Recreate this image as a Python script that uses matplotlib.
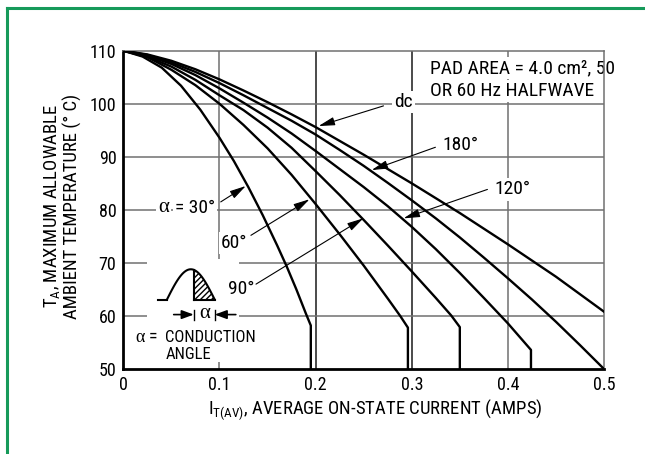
import matplotlib.pyplot as plt
import numpy as np
from matplotlib.patches import Rectangle
from matplotlib.lines import Line2D

narrow = ['Roboto Condensed', 'Liberation Sans Narrow', 'DejaVu Sans Condensed',
          'Liberation Sans', 'DejaVu Sans']
serif = ['Liberation Serif', 'DejaVu Serif']
plt.rcParams['font.family'] = narrow
plt.rcParams['mathtext.fontset'] = 'custom'
plt.rcParams['mathtext.rm'] = 'Liberation Sans'

# average on-state current (A) vs max allowable ambient temperature (C)
dc_i = [0, 0.025, 0.05, 0.075, 0.1, 0.125, 0.15, 0.175, 0.2, 0.25, 0.3, 0.35,
        0.4, 0.45, 0.5]
dc_t = [110, 109.3, 108.1, 106.5, 104.6, 102.5, 100.3, 98, 95.6, 90.4, 85,
        79.4, 73.5, 67.4, 60.8]

a180_i = [0, 0.025, 0.05, 0.075, 0.1, 0.125, 0.15, 0.175, 0.2, 0.225, 0.25,
          0.275, 0.3, 0.325, 0.35, 0.375, 0.4, 0.425, 0.45, 0.475, 0.5]
a180_t = [110, 109.2, 107.8, 106, 103.9, 101.6, 99.2, 96.8, 94.2, 91.3, 88.3,
          85.1, 81.8, 78.4, 74.8, 71, 67.1, 63.1, 58.9, 54.5, 50]

a120_i = [0, 0.025, 0.05, 0.075, 0.1, 0.125, 0.15, 0.175, 0.2, 0.225, 0.25,
          0.275, 0.3, 0.325, 0.35, 0.375, 0.4, 0.424, 0.424]
a120_t = [110, 109.1, 107.5, 105.4, 102.9, 100.2, 97.4, 94.4, 91.1, 87.7, 84.3,
          80.7, 76.8, 72.6, 68.1, 63.4, 58.6, 53.6, 50]

a90_i = [0, 0.025, 0.05, 0.075, 0.1, 0.125, 0.15, 0.175, 0.2, 0.225, 0.25,
         0.275, 0.3, 0.325, 0.341, 0.35, 0.35]
a90_t = [110, 108.9, 107, 104.5, 101.6, 98.8, 95.5, 91.7, 87.3, 82.8, 78.1,
         73.3, 68.4, 63.4, 60.1, 57.9, 50]

a60_i = [0, 0.025, 0.05, 0.075, 0.1, 0.125, 0.15, 0.175, 0.2, 0.225, 0.25,
         0.275, 0.288, 0.296, 0.296]
a60_t = [110, 108.8, 106.4, 103.5, 100, 96, 91.6, 86.6, 81.1, 75.4, 69.5,
         63.3, 60, 57.8, 50]

a30_i = [0, 0.02, 0.04, 0.06, 0.08, 0.1, 0.115, 0.13, 0.145, 0.16, 0.17, 0.18,
         0.19, 0.195, 0.195]
a30_t = [110, 108.9, 106.8, 103.4, 98.9, 93.6, 89.2, 84.3, 79, 73.3, 69.3, 65,
         60.4, 58.2, 50]

x_ticks = [0, 0.1, 0.2, 0.3, 0.4, 0.5]
x_labels = ['0', '0.1', '0.2', '0.3', '0.4', '0.5']
y_ticks = [50, 60, 70, 80, 90, 100, 110]

fig = plt.figure(figsize=(6.45, 4.54), dpi=100)
ax = fig.add_axes([0.1912, 0.1872, 0.7453, 0.7011])
ax.set_xlim(0, 0.5)
ax.set_ylim(50, 110)

# grid
for x in x_ticks[1:-1]:
    c = '#1a1a1a' if x in (0.2, 0.3) else '#707070'
    ax.axvline(x, color=c, lw=1.1, zorder=0.5)
for y in y_ticks[1:-1]:
    ax.axhline(y, color='#707070', lw=1.1, zorder=0.5)

for s in ['left', 'bottom']:
    ax.spines[s].set_linewidth(2)
    ax.spines[s].set_color('black')
for s in ['top', 'right']:
    ax.spines[s].set_linewidth(1.1)
    ax.spines[s].set_color('#707070')

ax.set_xticks(x_ticks)
ax.set_xticklabels(x_labels)
ax.set_yticks(y_ticks)
ax.tick_params(length=0, labelsize=13)
ax.tick_params(axis='y', pad=5)
ax.tick_params(axis='x', pad=5)

# curves
for xs, ys in [(dc_i, dc_t), (a180_i, a180_t), (a120_i, a120_t),
               (a90_i, a90_t), (a60_i, a60_t), (a30_i, a30_t)]:
    ax.plot(xs, ys, color='black', lw=1.7, zorder=3)

# labels with arrows
box = dict(facecolor='white', edgecolor='none', pad=1.5)
arr = dict(arrowstyle='-|>,head_length=0.7,head_width=0.18', color='black',
           lw=0.8, shrinkA=0, shrinkB=0, mutation_scale=14)
labels = [
    ('dc', (0.2915, 100.3), (0.2706, 99.6), (0.2031, 95.8)),
    ('180°', (0.3505, 92.2), (0.3246, 91.8), (0.2583, 87.5)),
    ('120°', (0.405, 83.85), (0.3787, 83.85), (0.2915, 78.4)),
    ('60°', (0.115, 73.8), (0.1327, 75.2), (0.1937, 82.0)),
    ('90°', (0.123, 65.0), (0.138, 66.0), (0.2496, 78.4)),
]
for txt, pos, tail, tip in labels:
    ax.text(pos[0], pos[1], txt, fontsize=14, ha='center', va='center',
            bbox=box, zorder=2)
    ax.annotate('', xy=tip, xytext=tail, arrowprops=arr, zorder=4)

# alpha = 30 label: serif alpha, sans rest
ax.text(0.0416, 80.4, 'α', fontsize=15, ha='center', va='center',
        family=serif, bbox=box, zorder=2)
ax.text(0.0535, 80.3, '= 30°', fontsize=14, ha='left', va='center',
        bbox=box, zorder=2)
ax.annotate('', xy=(0.1274, 84.5), xytext=(0.1013, 81.5), arrowprops=arr,
            zorder=4)

ax.text(0.3194, 106.7, 'PAD AREA = 4.0 cm², 50', fontsize=14, ha='left',
        va='center', bbox=box, zorder=2)
ax.text(0.3194, 102.4, 'OR 60 Hz HALFWAVE', fontsize=14, ha='left',
        va='center', bbox=box, zorder=2)

# conduction angle sketch
ax.add_patch(Rectangle((0.025, 51.4), 0.095, 19.4, facecolor='white',
                       edgecolor='none', zorder=1))
base, amp = 63.1, 5.7
x0, x1, xc = 0.0454, 0.095, 0.0733
wx = np.linspace(x0, x1, 80)
wy = base + amp * np.sin(np.pi * (wx - x0) / (x1 - x0))
ax.plot([0.0356, x0], [base, base], color='black', lw=1.5, zorder=3)
ax.plot(wx, wy, color='black', lw=1.5, zorder=3)
yc = base + amp * np.sin(np.pi * (xc - x0) / (x1 - x0))
ax.plot([xc, xc], [base, yc], color='black', lw=1.5, zorder=3)
ax.plot([xc, x1], [base, base], color='black', lw=1.5, zorder=3)
sel = wx >= xc
ax.fill_between(wx[sel], base, wy[sel], facecolor='white', edgecolor='black',
                hatch='//////', lw=0, zorder=2)
ax.plot([xc, xc], [59.3, 61.2], color='black', lw=1.0, zorder=3)
ax.plot([x1, x1], [59.3, 61.2], color='black', lw=1.0, zorder=3)
small = dict(arrowstyle='-|>,head_length=0.6,head_width=0.22', color='black',
             lw=1.2, shrinkA=0, shrinkB=0, mutation_scale=12)
ax.annotate('', xy=(xc, 60.26), xytext=(0.0524, 60.26), arrowprops=small, zorder=4)
ax.annotate('', xy=(x1, 60.26), xytext=(0.117, 60.26), arrowprops=small, zorder=4)
ax.text(0.0842, 60.4, 'α', fontsize=15, ha='center', va='center',
        family=serif, zorder=3)
ax.text(0.0122, 56.0, 'α', fontsize=13, ha='left', va='center',
        family=serif, zorder=3)
ax.text(0.0268, 56.0, '=', fontsize=13, ha='left', va='center', zorder=3)
ax.text(0.0437, 56.0, 'CONDUCTION', fontsize=12, ha='left', va='center', zorder=3)
ax.text(0.0437, 52.8, 'ANGLE', fontsize=12, ha='left', va='center', zorder=3)

# axis titles
fig.text(375.6 / 645, 1 - 410 / 454,
         r'$\mathregular{I_{T(AV)}}$, AVERAGE ON-STATE CURRENT (AMPS)',
         fontsize=13.5, ha='center', va='center')
fig.text(52 / 645, 1 - 206 / 454, r'$\mathregular{T_A}$, MAXIMUM ALLOWABLE',
         fontsize=13.5, ha='center', va='center', rotation=90)
fig.text(72 / 645, 1 - 206 / 454, 'AMBIENT TEMPERATURE (° C)',
         fontsize=13.5, ha='center', va='center', rotation=90)

# outer frame
green = '#169a5a'
fig.add_artist(Line2D([7 / 645, 7 / 645], [0, 1 - 8 / 454], color=green,
                      lw=2.2, transform=fig.transFigure))
fig.add_artist(Line2D([7 / 645, 1], [1 - 8 / 454, 1 - 8 / 454], color=green,
                      lw=2.2, transform=fig.transFigure))

fig.savefig('out.png', dpi=100)
